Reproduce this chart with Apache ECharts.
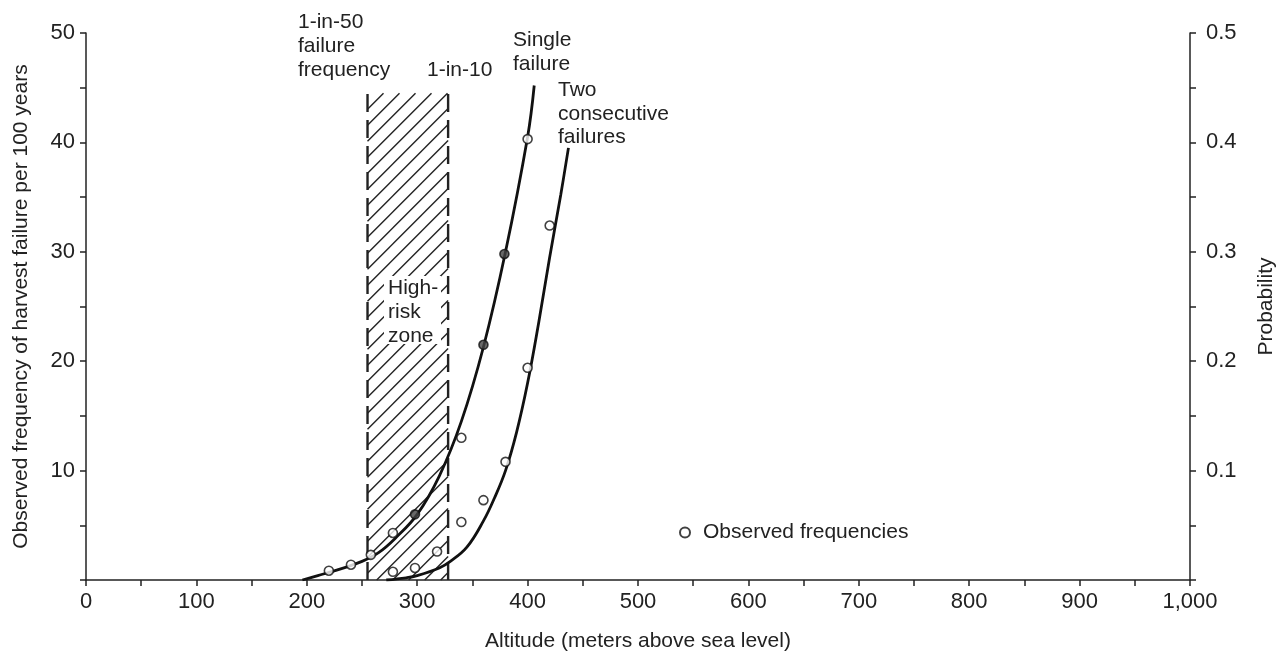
<!DOCTYPE html>
<html><head><meta charset="utf-8">
<script src="https://cdn.jsdelivr.net/npm/echarts@6/dist/echarts.min.js"></script>
<style>html,body{margin:0;padding:0;background:#fff}#c{width:1285px;height:657px}</style>
</head><body><div id="c"></div>
<script>
// ---- data (altitude in m, frequency per 100 years) ----
const singleCurveX = [196, 210, 230, 250, 265, 280, 300, 320, 340, 360, 380, 400, 406];
const singleCurveY = [0, 0.4, 1.0, 1.7, 2.5, 3.8, 6.0, 9.5, 14.5, 21.3, 30, 40.5, 45.2];
const twoCurveX = [272, 290, 300, 320, 330, 345, 360, 370, 380, 390, 400, 410, 420, 430, 437];
const twoCurveY = [0, 0.2, 0.4, 1.1, 1.7, 3.0, 5.4, 7.5, 10, 13.5, 18, 23.5, 29.5, 35.2, 39.5];
const obsOpenX = [220, 240, 258, 278, 340, 400, 278, 298, 318, 340, 360, 380, 400, 420];
const obsOpenY = [0.85, 1.4, 2.3, 4.3, 13, 40.3, 0.75, 1.1, 2.6, 5.3, 7.3, 10.8, 19.4, 32.4];
const obsFilledX = [298, 360, 379];
const obsFilledY = [6.0, 21.5, 29.8];
const riskZone = [255, 328, 44.5]; // 1-in-50 altitude, 1-in-10 altitude, top of zone
const xTickLabels = {1000: '1,000'};

const zip = (a, b) => a.map((v, i) => [v, b[i]]);
const FONT = 'Liberation Sans';
const INK = '#222';

const chart = echarts.init(document.getElementById('c'));
const option = {
  animation: false,
  backgroundColor: '#fff',
  textStyle: {fontFamily: FONT, color: INK},
  grid: {left: 86, right: 87, top: 33, bottom: 65, containLabel: false},
  legend: {
    data: ['Observed frequencies'], left: 674, top: 517, icon: 'circle',
    itemWidth: 10, itemHeight: 10,
    textStyle: {fontSize: 21, color: INK, fontFamily: FONT, padding: [0, 0, 0, 8]}
  },
  xAxis: {
    type: 'value', min: 0, max: 1000, interval: 100,
    name: 'Altitude (meters above sea level)', nameLocation: 'middle', nameGap: 51,
    nameTextStyle: {fontSize: 21, color: INK},
    axisLine: {show: true, onZero: false, lineStyle: {color: INK, width: 1.5}},
    axisTick: {show: true, inside: false, length: 6, lineStyle: {color: INK, width: 1.5}},
    minorTick: {show: true, splitNumber: 2, length: 6, lineStyle: {color: INK, width: 1.5}},
    axisLabel: {fontSize: 22, color: INK, margin: 11, formatter: v => xTickLabels[v] || String(v)},
    splitLine: {show: false}
  },
  yAxis: [{
    type: 'value', min: 0, max: 50, interval: 10, position: 'left',
    name: 'Observed frequency of harvest failure per 100 years', nameLocation: 'middle',
    nameGap: 54, nameRotate: 90, nameTextStyle: {fontSize: 21, color: INK},
    axisLine: {show: true, lineStyle: {color: INK, width: 1.5}},
    axisTick: {show: true, length: 6, lineStyle: {color: INK, width: 1.5}},
    minorTick: {show: true, splitNumber: 2, length: 6, lineStyle: {color: INK, width: 1.5}},
    axisLabel: {fontSize: 22, color: INK, margin: 11, formatter: v => v === 0 ? '' : String(v)},
    splitLine: {show: false}
  }, {
    type: 'value', min: 0, max: 0.5, interval: 0.1, position: 'right',
    name: 'Probability', nameLocation: 'middle', nameGap: 66, nameRotate: 90,
    nameTextStyle: {fontSize: 21, color: INK},
    axisLine: {show: true, lineStyle: {color: INK, width: 1.5}},
    axisTick: {show: true, length: 6, lineStyle: {color: INK, width: 1.5}},
    minorTick: {show: true, splitNumber: 2, length: 6, lineStyle: {color: INK, width: 1.5}},
    axisLabel: {fontSize: 22, color: INK, margin: 16, formatter: v => v === 0 ? '' : v.toFixed(1)},
    splitLine: {show: false}
  }],
  series: [
    {
      type: 'custom', name: 'High-risk zone', z: 1,
      data: [riskZone],
      encode: {x: [0, 1], y: 2},
      renderItem: (params, api) => {
        const pTL = api.coord([api.value(0), api.value(2)]);
        const pBR = api.coord([api.value(1), 0]);
        const L = pTL[0], T = pTL[1], R = pBR[0], B = pBR[1];
        const H = B - T, step = 16;
        const children = [];
        for (let xs = L - H; xs < R; xs += step) {
          const t0 = Math.max(0, L - xs), t1 = Math.min(R - xs, H);
          if (t1 <= t0) continue;
          children.push({type: 'line', shape: {x1: xs + t0, y1: B - t0, x2: xs + t1, y2: B - t1},
            style: {stroke: INK, lineWidth: 1.4}});
        }
        [L, R].forEach(x => children.push({type: 'line', shape: {x1: x, y1: B, x2: x, y2: T},
          style: {stroke: INK, lineWidth: 2.4, lineDash: [18, 8]}}));
        return {type: 'group', children};
      }
    },
    {type: 'line', name: 'Single failure', data: zip(singleCurveX, singleCurveY), smooth: 0.4,
      showSymbol: false, z: 3, lineStyle: {color: '#111', width: 2.8}},
    {type: 'line', name: 'Two consecutive failures', data: zip(twoCurveX, twoCurveY), smooth: 0.4,
      showSymbol: false, z: 3, lineStyle: {color: '#111', width: 2.8}},
    {type: 'scatter', name: 'Observed frequencies', data: zip(obsOpenX, obsOpenY), symbol: 'circle',
      symbolSize: 9, z: 5, itemStyle: {color: '#fff', borderColor: '#111', borderWidth: 1.6}},
    {type: 'scatter', name: 'Observed (filled)', data: zip(obsFilledX, obsFilledY), symbol: 'circle',
      symbolSize: 9, z: 5, itemStyle: {color: '#444', borderColor: '#111', borderWidth: 1.6}}
  ],
  graphic: [
    {type: 'rect', shape: {x: 384, y: 276, width: 57, height: 68}, style: {fill: '#fff'}, z: 50},
    ...[['1-in-50', 298, 22], ['failure', 298, 46], ['frequency', 298, 70],
        ['1-in-10', 427, 70], ['Single', 513, 40], ['failure', 513, 64],
        ['Two', 558, 90], ['consecutive', 558, 114], ['failures', 558, 137],
        ['High-', 388, 288], ['risk', 388, 312], ['zone', 388, 336]]
      .map(([t, x, y]) => ({type: 'text', x, y, z: 60,
        style: {text: t, font: '21px "' + FONT + '"', fill: INK, textVerticalAlign: 'middle', verticalAlign: 'middle'}}))
  ]
};
chart.setOption(option);
</script>
</body></html>
